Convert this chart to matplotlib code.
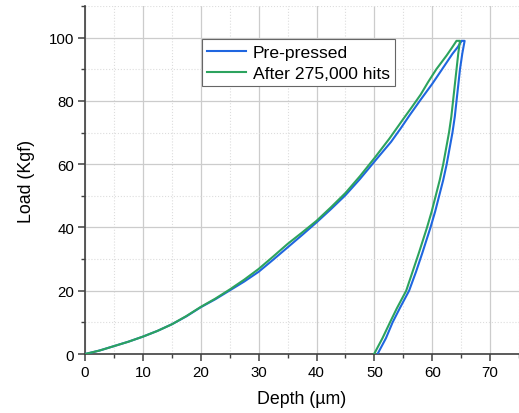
import matplotlib
matplotlib.use("Agg")
import matplotlib.pyplot as plt
from matplotlib.ticker import MultipleLocator

plt.rcParams["font.family"] = ["Liberation Sans", "DejaVu Sans"]

# pre-pressed: loading, hold, unloading
pre_depth = [0, 2.5, 5, 7.5, 10, 12.5, 15, 17.5, 20, 22.5, 25, 27.5, 30, 32.5, 35,
             37.5, 40, 42.5, 45, 47.5, 50, 52.9, 54.5, 56.1, 58,
             60, 61.7, 63.5, 64.4, 65.1,
             65.6, 65.2, 64.8, 64.5, 64.2, 63.9, 63.5, 63.0, 62.5, 61.9, 61.2,
             60.5, 59.7, 58.3, 57.2, 56.0, 54.4, 53.15, 52.0, 50.55]
pre_load = [0, 1.1, 2.5, 3.9, 5.5, 7.3, 9.4, 11.9, 14.8, 17.3, 20.1, 22.9, 26.0, 29.8, 33.7,
            37.6, 41.6, 45.8, 50.2, 55.3, 60.8, 67.1, 71.2, 75.5, 80.4,
            85.4, 90, 94.9, 97.0, 99,
            99, 95, 90, 85, 80, 75, 70, 65, 60, 55, 50,
            45, 40, 32, 26, 20, 14.5, 10, 5, 0]

# after 275,000 hits
hit_depth = [0, 2.5, 5, 7.5, 10, 12.5, 15, 17.5, 20, 22.5, 25, 27.5, 30, 32.5, 35,
             37.5, 40, 42.5, 45, 47.5, 50, 52.6, 55, 56.5,
             58, 59.3, 60.7, 62.5, 63.4, 64.2,
             64.8, 64.5, 64.2, 63.9, 63.6, 63.3, 62.9, 62.4, 61.9, 61.3, 60.6,
             59.9, 59.1, 57.7, 56.6, 55.5, 53.9, 52.7, 51.4, 49.95]
hit_load = [0, 1.1, 2.5, 3.9, 5.5, 7.3, 9.4, 12.0, 14.9, 17.5, 20.4, 23.5, 26.9, 30.8, 34.8,
            38.4, 42.1, 46.4, 50.9, 56.2, 61.9, 68.1, 74.3, 78.1,
            82.0, 86.0, 90, 94.4, 96.8, 99,
            99, 95, 90, 85, 80, 75, 70, 65, 60, 55, 50,
            45, 40, 32, 26, 20, 14.5, 10, 5, 0]

fig = plt.figure(figsize=(5.19, 4.14), dpi=100)
ax = fig.add_axes([0.164, 0.1425, 0.836, 0.8405])

ax.plot(pre_depth, pre_load, color="#1f66e0", lw=1.5, label="Pre-pressed", zorder=3)
ax.plot(hit_depth, hit_load, color="#2ca35e", lw=1.5, label="After 275,000 hits", zorder=3)

ax.set_xlim(0, 75)
ax.set_ylim(0, 110)
ax.xaxis.set_major_locator(MultipleLocator(10))
ax.xaxis.set_minor_locator(MultipleLocator(5))
ax.yaxis.set_minor_locator(MultipleLocator(10))
ax.set_yticks([0, 20, 40, 60, 80, 100])

ax.grid(True, which="major", color="#cccccc", lw=0.9)
ax.grid(True, which="minor", color="#dddddd", lw=0.8, ls=":")
ax.set_axisbelow(True)

for side in ["top", "right"]:
    ax.spines[side].set_visible(False)
for side in ["left", "bottom"]:
    ax.spines[side].set_color("#404040")
    ax.spines[side].set_linewidth(1.2)

ax.tick_params(which="major", direction="out", length=5, width=1.1, color="#404040",
               labelsize=10.8, pad=3)
ax.tick_params(which="minor", direction="out", length=3, width=1.0, color="#404040")

ax.set_xlabel("Depth (µm)", fontsize=12.8, labelpad=8)
ax.set_ylabel("Load (Kgf)", fontsize=12.8, labelpad=10)

leg = ax.legend(loc="upper left", bbox_to_anchor=(0.389, 0.903),
                bbox_transform=fig.transFigure, fontsize=12.6, fancybox=False,
                framealpha=1, edgecolor="#666666", handlelength=2.2,
                borderpad=0.3, labelspacing=0.35, handletextpad=0.4,
                borderaxespad=0)
leg.get_frame().set_linewidth(0.8)

fig.savefig("out.png", dpi=100)
